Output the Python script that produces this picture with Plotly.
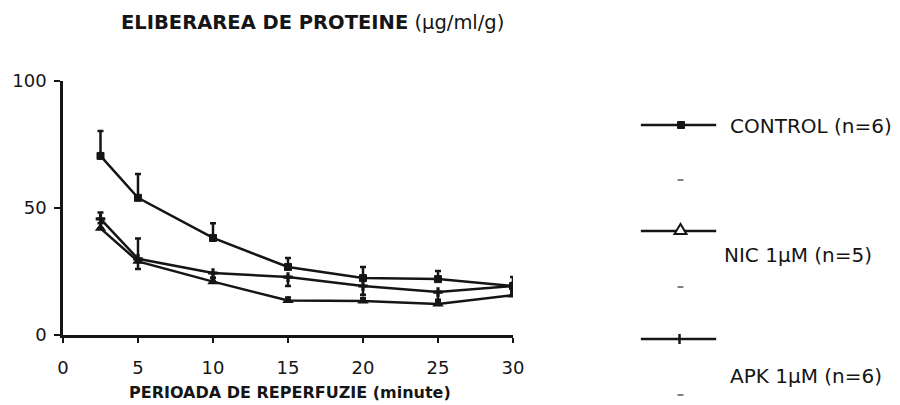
import plotly.graph_objects as go

# ---- data ----
minutes = [2.5, 5, 10, 15, 20, 25, 30]
control = [70.5, 54, 38.2, 26.8, 22.4, 22, 19.3]
control_err = [9.8, 9.4, 5.8, 3.5, 4.4, 3.2, 3.5]
nic = [42, 29, 21, 13.6, 13.4, 12.2, 15.7]
nic_err = [2, 9, 1.5, 1.2, 1.2, 1.2, 1.5]
apk = [45.7, 30, 24.4, 22.8, 19.3, 16.9, 19.3]
apk_err = [2.5, 4, 2, 3.5, 3.5, 3, 3]

series_names = ["CONTROL (n=6)", "NIC 1\u00b5M (n=5)", "APK 1\u00b5M (n=6)"]
x_ticks = [0, 5, 10, 15, 20, 25, 30]
y_ticks = [0, 50, 100]

INK = "#151515"
FONT = "DejaVu Sans"

fig = go.Figure()

fig.add_trace(go.Scatter(
    x=minutes, y=nic, mode="lines+markers", name=series_names[1],
    line=dict(color=INK, width=2.5),
    marker=dict(symbol="triangle-up", size=10, color=INK),
    error_y=dict(type="data", array=nic_err, arrayminus=[0]*len(nic), symmetric=False,
                 color=INK, thickness=2.5, width=3),
    showlegend=False,
))
fig.add_trace(go.Scatter(
    x=minutes, y=apk, mode="lines+markers", name=series_names[2],
    line=dict(color=INK, width=2.5),
    marker=dict(symbol="cross", size=8, color=INK),
    error_y=dict(type="data", array=[apk_err[0]] + [0]*(len(apk)-1), arrayminus=[0] + apk_err[1:],
                 symmetric=False, color=INK, thickness=2.5, width=3),
    showlegend=False,
))
fig.add_trace(go.Scatter(
    x=minutes, y=control, mode="lines+markers", name=series_names[0],
    line=dict(color=INK, width=2.5),
    marker=dict(symbol="square", size=7, color=INK, line=dict(color=INK, width=1)),
    error_y=dict(type="data", array=control_err, arrayminus=[0]*len(control), symmetric=False,
                 color=INK, thickness=2.5, width=3),
    showlegend=False,
))

# ---- manual legend (paper coords; plot area spans x 59..513 px, y 81..335 px) ----
L, R, T, B = 59, 387, 81, 70
W, H = 900 - L - R, 405 - T - B
def px(xp):
    return (xp - L) / W
def py(yp):
    return (405 - B - yp) / H

shapes = []
annotations = []
legend_rows = [
    (125, 126, 730, "square"),
    (231, 255, 724, "triangle"),
    (339, 376, 730, "tick"),
]
for (ly, ty, tx, sym), name in zip(legend_rows, series_names):
    shapes.append(dict(type="line", xref="paper", yref="paper",
                       x0=px(642), x1=px(718), y0=py(ly), y1=py(ly),
                       line=dict(color=INK, width=2.5)))
    if sym == "square":
        shapes.append(dict(type="rect", xref="paper", yref="paper",
                           x0=px(679), x1=px(686), y0=py(128.5), y1=py(121.5),
                           fillcolor=INK, line=dict(color=INK, width=1)))
    elif sym == "triangle":
        shapes.append(dict(type="path", xref="paper", yref="paper",
                           path=f"M {px(676)} {py(ly+3)} L {px(688)} {py(ly+3)} L {px(682)} {py(ly-7)} Z",
                           fillcolor="white", line=dict(color=INK, width=2)))
    else:
        shapes.append(dict(type="line", xref="paper", yref="paper",
                           x0=px(681), x1=px(681), y0=py(ly-5), y1=py(ly+5),
                           line=dict(color=INK, width=2.5)))
    annotations.append(dict(text=name, xref="paper", yref="paper", x=px(tx), y=py(ty),
                            xanchor="left", yanchor="middle", showarrow=False,
                            font=dict(family=FONT, size=20, color=INK)))
for dy in (180, 287, 395):
    shapes.append(dict(type="line", xref="paper", yref="paper",
                       x0=px(679), x1=px(685), y0=py(dy), y1=py(dy),
                       line=dict(color="#555", width=1.5)))

annotations.append(dict(
    text="<b>ELIBERAREA DE PROTEINE</b> (\u00b5g/ml/g)", xref="paper", yref="paper",
    x=px(115), y=py(23), xanchor="left", yanchor="middle", showarrow=False,
    font=dict(family=FONT, size=19.5, color=INK)))
annotations.append(dict(
    text="<b>PERIOADA DE REPERFUZIE (minute)</b>", xref="paper", yref="paper",
    x=px(288), y=py(392), xanchor="center", yanchor="middle", showarrow=False,
    font=dict(family=FONT, size=16, color=INK)))

fig.update_layout(
    width=900, height=405,
    margin=dict(l=L, r=R, t=T, b=B, pad=0),
    paper_bgcolor="white", plot_bgcolor="white",
    shapes=shapes, annotations=annotations,
    xaxis=dict(range=[0, 30], tickvals=x_ticks, ticks="outside", ticklen=5, tickwidth=2,
               tickcolor=INK, showline=True, linecolor=INK, linewidth=2.5, showgrid=False,
               zeroline=False, ticklabelstandoff=10,
               tickfont=dict(family=FONT, size=18, color=INK)),
    yaxis=dict(range=[0, 100], tickvals=y_ticks, ticks="outside", ticklen=6, tickwidth=2,
               tickcolor=INK, showline=True, linecolor=INK, linewidth=2.5, showgrid=False,
               zeroline=False, ticklabelstandoff=4,
               tickfont=dict(family=FONT, size=18, color=INK)),
)

fig.write_html("out.html")
